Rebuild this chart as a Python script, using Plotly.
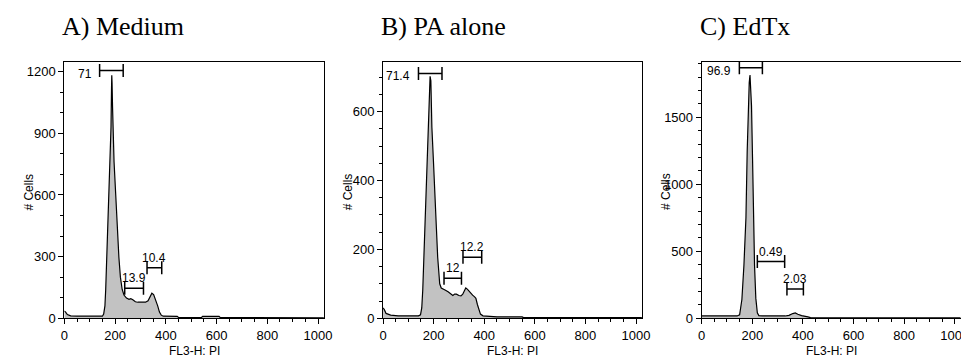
import plotly.graph_objects as go

# ---------------- data ----------------
titles = ["A) Medium", "B) PA alone", "C) EdTx"]

medium_x = [0, 5, 12, 25, 50, 100, 140, 150, 155, 160, 163, 167, 171, 177, 181, 184, 186, 187, 188, 190, 192, 196, 202, 208, 215, 221, 228, 235, 245, 255, 262, 270, 280, 290, 300, 320, 330, 337, 345, 352, 360, 368, 375, 382, 390, 445, 450, 540, 545, 610, 615, 1023]
medium_y = [35, 30, 18, 12, 10, 9, 9, 10, 20, 60, 139, 300, 450, 614, 780, 931, 1120, 1182, 1150, 1030, 930, 760, 614, 430, 297, 200, 140, 113, 98, 92, 95, 90, 80, 78, 78, 78, 85, 105, 122, 115, 90, 60, 30, 15, 10, 9, 4, 3, 9, 9, 3, 2]

pa_x = [0, 5, 12, 30, 60, 140, 148, 153, 157, 163, 170, 177, 182, 186, 189, 193, 199, 206, 211, 216, 220, 224, 230, 237, 245, 257, 268, 276, 283, 290, 300, 308, 315, 322, 327, 334, 342, 354, 362, 367, 373, 379, 385, 395, 440, 445, 450, 550, 555, 1023]
pa_y = [30, 25, 14, 9, 7, 7, 10, 30, 83, 220, 366, 555, 660, 703, 690, 555, 460, 366, 260, 177, 130, 100, 88, 86, 82, 77, 70, 66, 70, 70, 66, 65, 70, 80, 88, 84, 76, 67, 62, 58, 40, 22, 12, 7, 5, 3, 4, 4, 2, 2]

edtx_x = [0, 140, 150, 159, 167, 175, 180, 184, 188, 191, 194, 197, 201, 205, 209, 214, 220, 226, 240, 330, 345, 360, 370, 380, 395, 420, 430, 1023]
edtx_y = [17, 17, 25, 140, 394, 750, 1250, 1585, 1760, 1815, 1720, 1585, 1200, 750, 394, 150, 40, 20, 17, 17, 22, 35, 40, 30, 20, 10, 5, 3]

# gates: (label, start, end, height)
gates_medium = [("71", 139, 232, 1205), ("13.9", 238, 312, 146), ("10.4", 326, 384, 246)]
gates_pa = [("71.4", 140, 233, 711), ("12", 241, 310, 116), ("12.2", 316, 390, 177)]
gates_edtx = [("96.9", 149, 240, 1870), ("0.49", 220, 328, 423), ("2.03", 337, 402, 219)]

y_max = [1248, 745, 1914]
y_major = [300, 200, 500]
y_minor = [100, 50, 100]
x_max = 1024

x_label = "FL3-H: PI"
y_label = "# Cells"

# ---------------- layout geometry ----------------
W, H = 969, 360
left_px = [53, 375.7, 698.3]
right_px = [316, 638, 960.7]
top_px, bottom_px = 55, 317.3

series = [(medium_x, medium_y, gates_medium), (pa_x, pa_y, gates_pa), (edtx_x, edtx_y, gates_edtx)]

fig = go.Figure()
annotations = []
shapes = []
tickfont = dict(family="Liberation Sans, Arial, sans-serif", size=13, color="black")
labelfont = dict(family="Liberation Sans, Arial, sans-serif", size=12, color="black")

for i, (xs, ys, gates) in enumerate(series):
    n = "" if i == 0 else str(i + 1)
    xa, ya = "x" + n, "y" + n
    fig.add_trace(go.Scatter(
        x=xs, y=ys, mode="lines", xaxis=xa, yaxis=ya,
        line=dict(color="black", width=1.2),
        fill="tozeroy", fillcolor="#c2c2c2", showlegend=False, hoverinfo="skip"))

    axis_common = dict(showgrid=False, zeroline=False, showline=True, linecolor="black",
                       linewidth=1, mirror=True, ticks="outside", tickcolor="black",
                       tickfont=tickfont, ticklen=5, tickwidth=1)
    fig.layout["xaxis" + n] = dict(
        domain=[left_px[i] / W, right_px[i] / W], anchor=ya, range=[0, x_max],
        tick0=0, dtick=200, ticklabelstandoff=0,
        minor=dict(ticks="outside", dtick=50, ticklen=3, tickcolor="black"),
        **axis_common)
    fig.layout["yaxis" + n] = dict(
        domain=[1 - bottom_px / H, 1 - top_px / H], anchor=xa, range=[0, y_max[i]],
        tick0=0, dtick=y_major[i],
        minor=dict(ticks="outside", dtick=y_minor[i], ticklen=3, tickcolor="black"),
        **axis_common)

    # titles
    annotations.append(dict(text=titles[i], xref="paper", yref="paper",
                            x=(left_px[i] - 4) / W, y=1 - 19 / H, xanchor="left", yanchor="middle",
                            showarrow=False,
                            font=dict(family="Liberation Serif, Times New Roman, serif", size=26, color="black")))
    # axis labels
    annotations.append(dict(text=x_label, xref="paper", yref="paper",
                            x=(left_px[i] + right_px[i]) / 2 / W, y=1 - 351 / H,
                            xanchor="center", yanchor="middle", showarrow=False, font=labelfont))
    annotations.append(dict(text=y_label, xref="paper", yref="paper",
                            x=(left_px[i] - 36) / W, y=1 - 188 / H, textangle=-90,
                            xanchor="center", yanchor="middle", showarrow=False, font=labelfont))

    # gates
    for j, (lab, g0, g1, gy) in enumerate(gates):
        shapes.append(dict(type="line", xref=xa, yref=ya, x0=g0, x1=g1, y0=gy, y1=gy,
                           line=dict(color="black", width=1.5)))
        for gx in (g0, g1):
            shapes.append(dict(type="line", xref=xa, yref=ya, x0=gx, x1=gx,
                               ysizemode="pixel", yanchor=gy, y0=-6.5, y1=6.5,
                               line=dict(color="black", width=1.5)))
        if j == 0:
            annotations.append(dict(text=lab, xref=xa, yref=ya, x=g0, y=gy, xanchor="right",
                                    yanchor="middle", xshift=-6, yshift=-3, showarrow=False,
                                    font=labelfont))
        else:
            annotations.append(dict(text=lab, xref=xa, yref=ya, x=(g0 + g1) / 2, y=gy,
                                    xanchor="center", yanchor="middle", yshift=10,
                                    showarrow=False, font=labelfont))

fig.update_layout(width=W, height=H, margin=dict(l=0, r=0, t=0, b=0),
                  paper_bgcolor="white", plot_bgcolor="white",
                  annotations=annotations, shapes=shapes)

fig.write_html("out.html")
